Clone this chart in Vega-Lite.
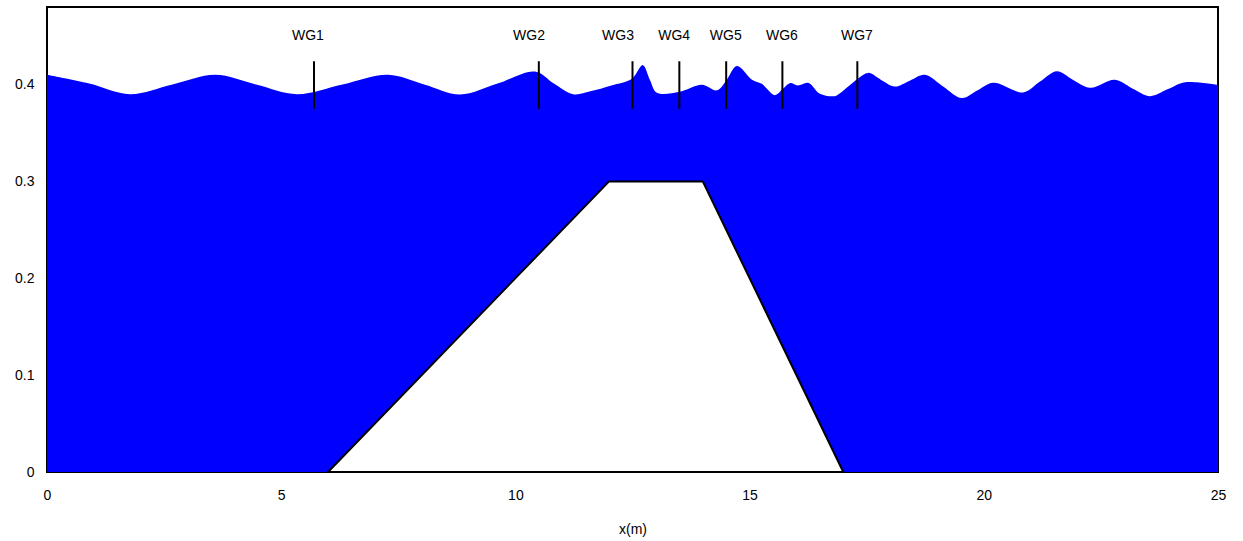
{
  "$schema": "https://vega.github.io/schema/vega-lite/v6.json",
  "autosize": "none",
  "width": 1171,
  "height": 465,
  "padding": {"left": 47, "top": 7, "right": 25, "bottom": 69},
  "background": "white",
  "config": {
    "view": {"stroke": "black", "strokeWidth": 2},
    "font": "Liberation Sans",
    "axis": {"grid": false, "domain": false, "ticks": false, "labelFlush": false, "labelFont": "Liberation Sans", "labelFontSize": 14, "labelColor": "black", "titleFont": "Liberation Sans", "titleFontSize": 14, "titleFontWeight": "normal", "titleColor": "black"}
  },
  "datasets": {
    "surface": [
      {"x": 0.0, "eta": 0.410},
      {"x": 0.9, "eta": 0.401},
      {"x": 1.77, "eta": 0.390},
      {"x": 2.68, "eta": 0.400},
      {"x": 3.59, "eta": 0.410},
      {"x": 4.46, "eta": 0.400},
      {"x": 5.34, "eta": 0.390},
      {"x": 6.31, "eta": 0.400},
      {"x": 7.28, "eta": 0.410},
      {"x": 8.05, "eta": 0.400},
      {"x": 8.82, "eta": 0.3897},
      {"x": 9.62, "eta": 0.401},
      {"x": 10.42, "eta": 0.4134},
      {"x": 10.82, "eta": 0.401},
      {"x": 11.23, "eta": 0.390},
      {"x": 11.6, "eta": 0.393},
      {"x": 12.05, "eta": 0.399},
      {"x": 12.49, "eta": 0.406},
      {"x": 12.72, "eta": 0.420},
      {"x": 12.87, "eta": 0.405},
      {"x": 13.02, "eta": 0.3915},
      {"x": 13.51, "eta": 0.3925},
      {"x": 13.98, "eta": 0.3997},
      {"x": 14.30, "eta": 0.394},
      {"x": 14.50, "eta": 0.404},
      {"x": 14.73, "eta": 0.419},
      {"x": 15.05, "eta": 0.405},
      {"x": 15.26, "eta": 0.4007},
      {"x": 15.54, "eta": 0.389},
      {"x": 15.71, "eta": 0.3955},
      {"x": 15.86, "eta": 0.4014},
      {"x": 16.03, "eta": 0.399},
      {"x": 16.25, "eta": 0.4017},
      {"x": 16.50, "eta": 0.3904},
      {"x": 16.82, "eta": 0.388},
      {"x": 16.93, "eta": 0.391},
      {"x": 17.31, "eta": 0.406},
      {"x": 17.53, "eta": 0.412},
      {"x": 17.8, "eta": 0.405},
      {"x": 18.10, "eta": 0.398},
      {"x": 18.42, "eta": 0.404},
      {"x": 18.74, "eta": 0.410},
      {"x": 19.13, "eta": 0.398},
      {"x": 19.53, "eta": 0.386},
      {"x": 19.87, "eta": 0.394},
      {"x": 20.20, "eta": 0.4017},
      {"x": 20.84, "eta": 0.3918},
      {"x": 21.2, "eta": 0.403},
      {"x": 21.56, "eta": 0.4137},
      {"x": 21.9, "eta": 0.405},
      {"x": 22.27, "eta": 0.3966},
      {"x": 22.80, "eta": 0.4048},
      {"x": 23.17, "eta": 0.396},
      {"x": 23.55, "eta": 0.388},
      {"x": 23.92, "eta": 0.395},
      {"x": 24.30, "eta": 0.4024},
      {"x": 25.0, "eta": 0.3997}
    ],
    "bar": [
      {"x": 6, "z": 0},
      {"x": 12, "z": 0.3},
      {"x": 14, "z": 0.3},
      {"x": 17, "z": 0}
    ],
    "gauges": [
      {"name": "WG1", "x": 5.7, "label_x": 5.57},
      {"name": "WG2", "x": 10.5, "label_x": 10.29},
      {"name": "WG3", "x": 12.5, "label_x": 12.19},
      {"name": "WG4", "x": 13.5, "label_x": 13.39},
      {"name": "WG5", "x": 14.5, "label_x": 14.49},
      {"name": "WG6", "x": 15.7, "label_x": 15.69},
      {"name": "WG7", "x": 17.3, "label_x": 17.29}
    ]
  },
  "layer": [
    {
      "data": {"name": "surface"},
      "mark": {"type": "area", "color": "#0000ff", "interpolate": "catmull-rom", "clip": true},
      "encoding": {
        "x": {"field": "x", "type": "quantitative", "scale": {"domain": [0, 25], "nice": false}, "axis": {"values": [0, 5, 10, 15, 20, 25], "title": "x(m)", "labelPadding": 16, "titlePadding": 20}},
        "y": {"field": "eta", "type": "quantitative", "scale": {"domain": [0, 0.48], "nice": false}, "axis": {"values": [0, 0.1, 0.2, 0.3, 0.4], "format": "~g", "title": null, "labelPadding": 13}}
      }
    },
    {
      "data": {"name": "bar"},
      "mark": {"type": "area", "fill": "white", "stroke": "black", "strokeWidth": 2, "interpolate": "linear"},
      "encoding": {
        "x": {"field": "x", "type": "quantitative"},
        "y": {"field": "z", "type": "quantitative"}
      }
    },
    {
      "data": {"name": "gauges"},
      "mark": {"type": "rule", "color": "black", "strokeWidth": 2},
      "encoding": {
        "x": {"field": "x", "type": "quantitative"},
        "y": {"datum": 0.375},
        "y2": {"datum": 0.424}
      }
    },
    {
      "data": {"name": "gauges"},
      "mark": {"type": "text", "fontSize": 14, "font": "Liberation Sans", "color": "black", "align": "center", "baseline": "middle"},
      "encoding": {
        "x": {"field": "label_x", "type": "quantitative"},
        "y": {"datum": 0.45},
        "text": {"field": "name"}
      }
    }
  ]
}
